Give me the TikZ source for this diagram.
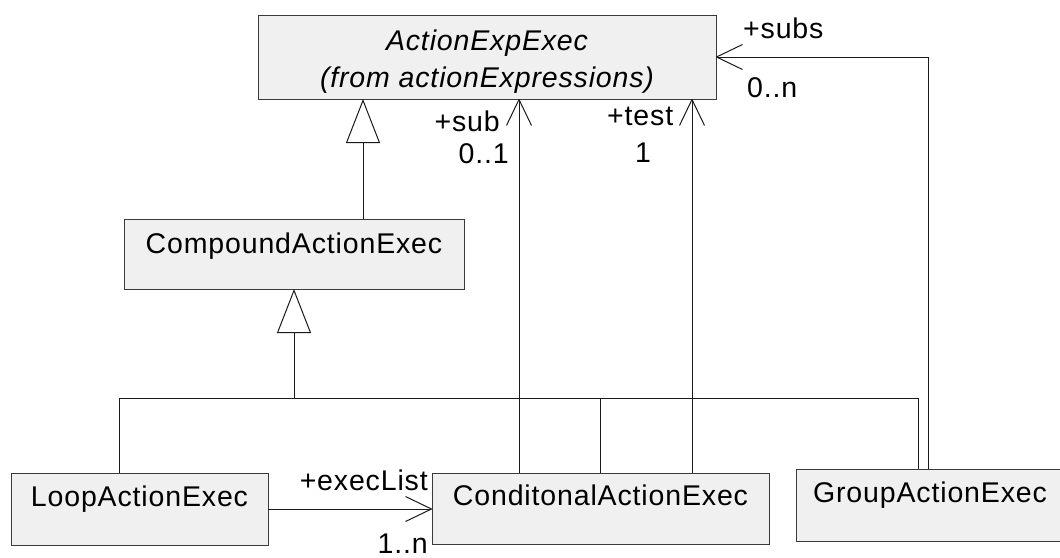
\documentclass[tikz,border=0pt]{standalone}
\usepackage{fontspec}
\setmainfont[LetterSpace=3]{Liberation Sans}
\usetikzlibrary{arrows.meta}
\definecolor{boxfill}{HTML}{F0F0F0}
\definecolor{boxline}{HTML}{3A3A3A}
\definecolor{linecol}{HTML}{1A1A1A}
\newcommand{\umlfont}{\fontsize{28.5}{34}\selectfont}
\tikzset{
  classbox/.style={draw=boxline, fill=boxfill, line width=1pt, rectangle,
    inner sep=0pt, outer sep=0pt},
  classname/.style={anchor=base, inner sep=0pt, font=\umlfont},
  role/.style={inner sep=0pt, font=\umlfont},
  link/.style={draw=linecol, line width=1pt},
  gen/.style={link, -{Triangle[length=44pt, width=34pt, fill=white, line join=miter]}},
  assoc/.style={link, -{Straight Barb[length=26pt, width=25pt, line join=round]}},
}
\begin{document}
\begin{tikzpicture}[x=1pt, y=-1pt]
  \useasboundingbox (0,0) rectangle (1060,557);
  \clip (0,0) rectangle (1060,557);

  % classes
  \node[classbox, minimum width=458pt, minimum height=84pt] (top) at (487,57) {};
  \node[classname] (top-name) at (487,50) {\itshape ActionExpExec};
  \node[classname] (top-pkg) at (487,87) {\itshape (from actionExpressions)};

  \node[classbox, minimum width=340pt, minimum height=70pt] (compound) at (294,254) {};
  \node[classname] (compound-name) at (294,253) {CompoundActionExec};

  \node[classbox, minimum width=257pt, minimum height=72pt] (loop) at (139.5,509) {};
  \node[classname] (loop-name) at (139.5,506) {LoopActionExec};

  \node[classbox, minimum width=337pt, minimum height=71pt] (cond) at (600.5,508.5) {};
  \node[classname] (cond-name) at (600.5,505) {ConditonalActionExec};

  \node[classbox, minimum width=268pt, minimum height=72pt] (group) at (930,505) {};
  \node[classname] (group-name) at (930,502) {GroupActionExec};

  % generalizations
  \draw[gen] (compound.north -| 363,0) -- (top.south -| 363,0);

  \coordinate (barL) at (119,398);
  \coordinate (barR) at (918,398);
  \draw[link] (barL) -- (barR);
  \draw[gen] (compound.south |- barL) -- (compound.south);
  \draw[link] (barL) -- (barL |- loop.north);
  \draw[link] (cond.north |- barL) -- (cond.north);
  \draw[link] (barR) -- (barR |- group.north);

  % associations
  \draw[assoc] (cond.north -| 519,0) -- (top.south -| 519,0);
  \draw[assoc] (cond.north -| 692,0) -- (top.south -| 692,0);
  \draw[assoc] (group.north -| 928,0) |- (top.east);
  \draw[assoc] (loop.east) -- (cond.west |- loop.east);

  % role names and multiplicities
  \node[role, anchor=base east] (sub-role) at (500,131) {+sub};
  \node[role, anchor=base east] (sub-mult) at (509,163) {0..1};
  \node[role, anchor=base west] (test-role) at (607,125) {+test};
  \node[role, anchor=base west] (test-mult) at (635,162) {1};
  \node[role, anchor=base west] (subs-role) at (743,38) {+subs};
  \node[role, anchor=base west] (subs-mult) at (747,97) {0..n};
  \node[role, anchor=base east] (exec-role) at (428,490) {+execList};
  \node[role, anchor=base east] (exec-mult) at (428,553) {1..n};
\end{tikzpicture}
\end{document}
